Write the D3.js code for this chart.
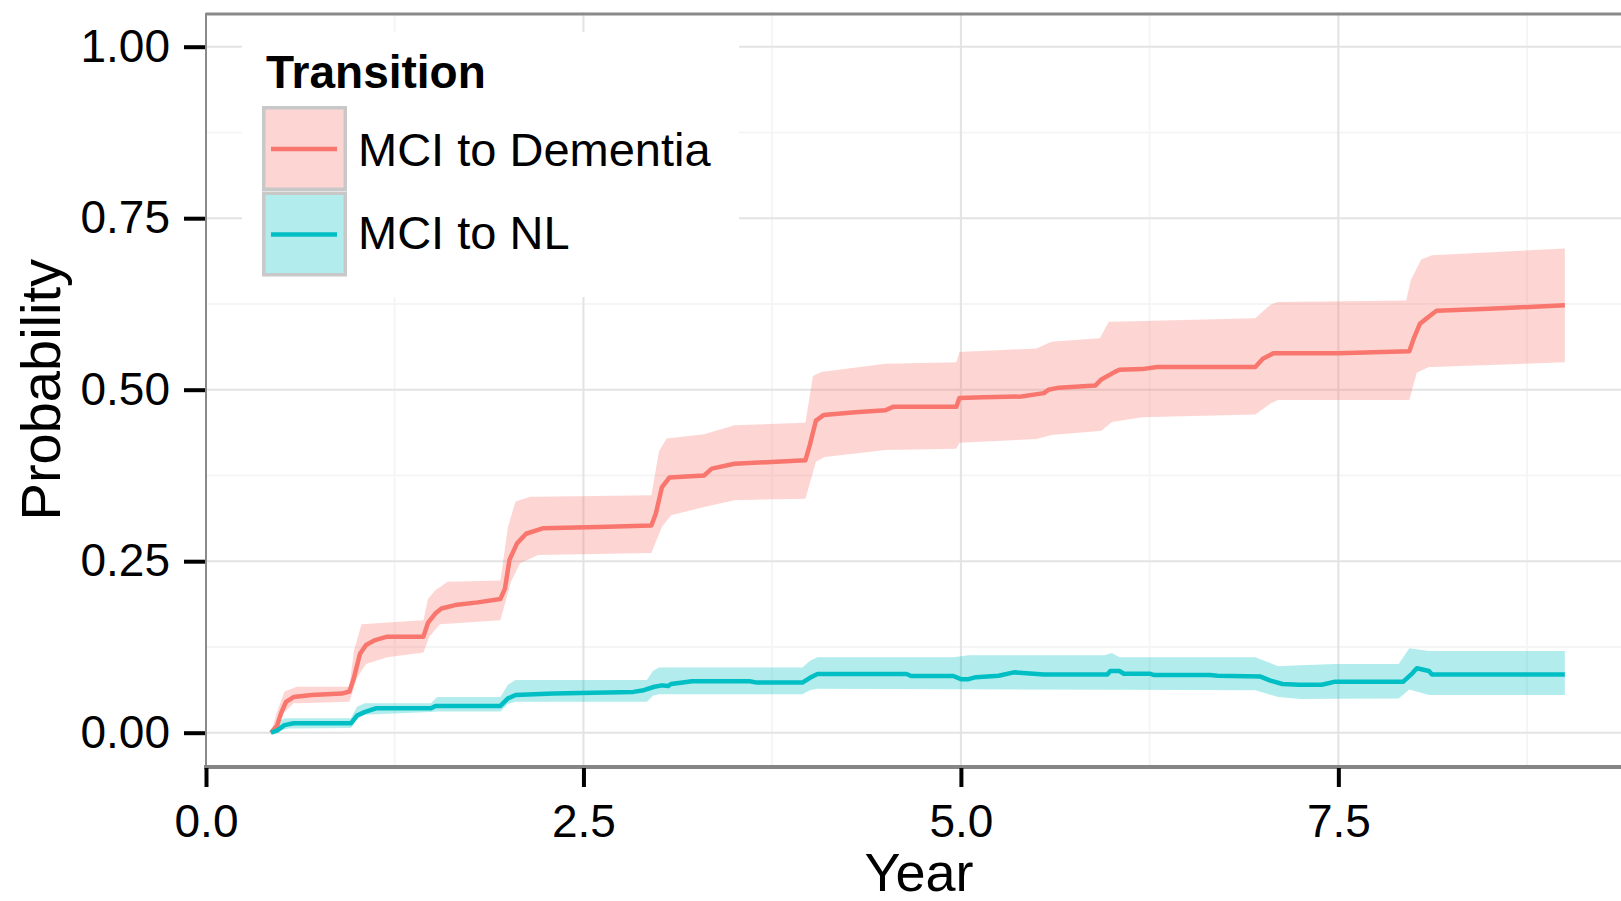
<!DOCTYPE html>
<html>
<head>
  <style>
    body { margin: 0; background: #fff; }
    text { font-family: "Liberation Sans", Arial, Helvetica, sans-serif; fill: #000; }
    line.major { stroke: #e3e3e3; stroke-width: 2; }
    line.minor { stroke: #f5f5f5; stroke-width: 2; }
    .axis text { font-size: 46px; }
    .axis line { stroke: #000; stroke-width: 4; }
  </style>
</head>
<body>
<svg id="chart"></svg>

<script src="https://cdn.jsdelivr.net/npm/d3@7"></script>
<script>
// series names and colours
var series = ['MCI to Dementia', 'MCI to NL'];
var colors = ['#F8766D', '#00BFC4'];

// [year, probability]
var demEst = [[0.43,0],[0.47,0.01],[0.50,0.03],[0.53,0.045],[0.58,0.052],[0.70,0.055],[0.90,0.057],[0.95,0.06],
  [0.98,0.08],[1.02,0.115],[1.06,0.128],[1.12,0.135],[1.20,0.14],[1.44,0.14],[1.47,0.16],[1.52,0.174],
  [1.56,0.181],[1.65,0.186],[1.80,0.19],[1.95,0.195],[1.98,0.21],[2.01,0.252],[2.06,0.276],[2.12,0.29],
  [2.23,0.298],[2.60,0.300],[2.95,0.302],[2.98,0.32],[3.02,0.358],[3.07,0.372],[3.30,0.375],[3.35,0.385],
  [3.50,0.392],[3.97,0.397],[4.00,0.42],[4.04,0.455],[4.09,0.463],[4.30,0.467],[4.50,0.47],[4.55,0.475],
  [4.97,0.475],[4.99,0.488],[5.15,0.489],[5.40,0.49],[5.55,0.495],[5.58,0.50],[5.65,0.503],[5.89,0.506],
  [5.93,0.515],[6.02,0.526],[6.05,0.529],[6.20,0.53],[6.30,0.533],[6.95,0.533],[7.00,0.545],[7.07,0.553],
  [7.50,0.553],[7.97,0.556],[8.00,0.575],[8.04,0.596],[8.09,0.605],[8.15,0.615],[8.50,0.618],[9.00,0.623]];
var demHi = [[0.43,0],[0.47,0.03],[0.52,0.06],[0.60,0.067],[0.95,0.067],[0.98,0.12],[1.03,0.158],[1.44,0.164],
  [1.47,0.195],[1.52,0.208],[1.60,0.22],[1.95,0.222],[2.00,0.30],[2.05,0.337],[2.15,0.344],[2.95,0.346],
  [3.00,0.41],[3.05,0.429],[3.30,0.435],[3.50,0.448],[3.97,0.452],[4.02,0.52],[4.08,0.526],[4.50,0.538],
  [4.97,0.54],[4.99,0.555],[5.50,0.56],[5.60,0.57],[5.92,0.575],[5.98,0.599],[6.20,0.60],[6.95,0.604],
  [7.05,0.624],[7.10,0.628],[7.95,0.63],[7.98,0.66],[8.05,0.69],[8.12,0.696],[9.00,0.706]];
var demLo = [[0.43,0],[0.50,0.025],[0.58,0.043],[0.95,0.045],[1.00,0.08],[1.06,0.10],[1.20,0.11],[1.44,0.117],
  [1.48,0.14],[1.55,0.158],[1.95,0.164],[2.02,0.22],[2.08,0.247],[2.20,0.259],[2.95,0.262],[3.02,0.30],
  [3.08,0.317],[3.30,0.329],[3.50,0.339],[3.97,0.341],[4.04,0.395],[4.10,0.402],[4.50,0.412],[4.97,0.414],
  [4.99,0.4225],[5.50,0.428],[5.60,0.434],[5.93,0.44],[6.00,0.453],[6.20,0.46],[6.95,0.464],[7.05,0.48],
  [7.10,0.485],[7.97,0.485],[8.02,0.525],[8.10,0.533],[9.00,0.54]];

var nlEst = [[0.43,0],[0.47,0.003],[0.52,0.011],[0.58,0.0137],[0.96,0.0137],[1.00,0.025],[1.05,0.03],
  [1.125,0.0355],[1.49,0.0355],[1.52,0.039],[1.95,0.039],[2.00,0.05],[2.05,0.055],[2.30,0.057],[2.83,0.0595],
  [2.90,0.062],[2.97,0.067],[3.02,0.069],[3.06,0.068],[3.08,0.071],[3.22,0.075],[3.60,0.075],[3.65,0.073],
  [3.95,0.073],[4.00,0.08],[4.05,0.0855],[4.64,0.0855],[4.67,0.0826],[4.95,0.0826],[5.00,0.078],[5.05,0.078],
  [5.10,0.081],[5.25,0.083],[5.35,0.088],[5.55,0.085],[5.97,0.085],[5.99,0.09],[6.05,0.09],[6.08,0.086],
  [6.25,0.086],[6.28,0.084],[6.65,0.084],[6.70,0.083],[6.98,0.082],[7.05,0.076],[7.13,0.071],[7.24,0.070],
  [7.39,0.070],[7.48,0.0744],[7.93,0.0744],[7.99,0.0865],[8.02,0.094],[8.10,0.09],[8.12,0.085],[9.00,0.085]];
var nlHi = [[0.43,0],[0.47,0.015],[0.52,0.021],[0.96,0.021],[1.00,0.038],[1.05,0.043],[1.49,0.043],[1.53,0.052],
  [1.95,0.052],[2.00,0.07],[2.05,0.077],[2.92,0.077],[2.96,0.09],[3.00,0.095],[3.95,0.095],[4.00,0.105],
  [4.05,0.11],[4.95,0.11],[5.05,0.113],[5.95,0.113],[6.00,0.116],[6.05,0.11],[6.95,0.11],[7.10,0.097],
  [7.48,0.10],[7.90,0.10],[7.97,0.123],[8.10,0.119],[9.00,0.119]];
var nlLo = [[0.43,0],[0.55,0.006],[0.96,0.007],[1.00,0.02],[1.05,0.026],[1.49,0.03],[1.53,0.031],[1.95,0.031],
  [2.00,0.042],[2.05,0.045],[2.92,0.045],[2.96,0.054],[3.00,0.056],[3.95,0.056],[4.00,0.062],[4.05,0.064],
  [6.95,0.062],[7.10,0.052],[7.25,0.049],[7.90,0.05],[7.97,0.063],[8.10,0.055],[9.00,0.055]];

var xTicks = [0, 2.5, 5, 7.5];
var xMinor = [1.25, 3.75, 6.25, 8.75];
var yTicks = [0, 0.25, 0.5, 0.75, 1];
var yMinor = [0.125, 0.375, 0.625, 0.875];

var width = 1621, height = 901;
var pLeft = 206, pRight = 1632, pTop = 12.4, pBottom = 767;

var svg = d3.select('#chart')
  .attr('width', width)
  .attr('height', height);

var x = d3.scaleLinear().domain([0, 9.445]).range([pLeft, pRight]);
var y = d3.scaleLinear().domain([-0.05, 1.05]).range([pBottom, pTop]);

// grid
svg.selectAll('line.xminor').data(xMinor).enter().append('line')
  .attr('class', 'minor').attr('x1', d => x(d)).attr('x2', d => x(d)).attr('y1', pTop).attr('y2', pBottom);
svg.selectAll('line.yminor').data(yMinor).enter().append('line')
  .attr('class', 'minor').attr('x1', pLeft).attr('x2', width).attr('y1', d => y(d)).attr('y2', d => y(d));
svg.selectAll('line.xmajor').data(xTicks).enter().append('line')
  .attr('class', 'major').attr('x1', d => x(d)).attr('x2', d => x(d)).attr('y1', pTop).attr('y2', pBottom);
svg.selectAll('line.ymajor').data(yTicks).enter().append('line')
  .attr('class', 'major').attr('x1', pLeft).attr('x2', width).attr('y1', d => y(d)).attr('y2', d => y(d));

// ribbons and lines
var band = d3.area().x(d => x(d[0])).y0(d => y(d[1])).y1(d => y(d[2]));
var line = d3.line().x(d => x(d[0])).y(d => y(d[1]));

// merge lower/upper readings onto one time grid for the area
function ribbon(lo, hi) {
  var times = Array.from(new Set(lo.map(d => d[0]).concat(hi.map(d => d[0])))).sort((a, b) => a - b);
  var fl = d3.scaleLinear().domain(lo.map(d => d[0])).range(lo.map(d => d[1]));
  var fh = d3.scaleLinear().domain(hi.map(d => d[0])).range(hi.map(d => d[1]));
  return times.map(t => [t, fl(t), fh(t)]);
}

var bands = [ribbon(demLo, demHi), ribbon(nlLo, nlHi)];
var ests = [demEst, nlEst];

svg.selectAll('path.band').data(bands).enter().append('path')
  .attr('d', band)
  .attr('fill', (d, i) => colors[i])
  .attr('fill-opacity', 0.3);

svg.selectAll('path.est').data(ests).enter().append('path')
  .attr('d', line)
  .attr('fill', 'none')
  .attr('stroke', (d, i) => colors[i])
  .attr('stroke-width', 4.5)
  .attr('stroke-linejoin', 'round');

// panel border
svg.append('line').attr('x1', pLeft).attr('x2', width).attr('y1', 14).attr('y2', 14)
  .attr('stroke', '#8a8a8a').attr('stroke-width', 3);
svg.append('line').attr('x1', pLeft).attr('x2', pLeft).attr('y1', 13).attr('y2', pBottom)
  .attr('stroke', '#8a8a8a').attr('stroke-width', 2);
svg.append('line').attr('x1', pLeft - 2).attr('x2', width).attr('y1', pBottom).attr('y2', pBottom)
  .attr('stroke', '#858585').attr('stroke-width', 4);

// axes
var gy = svg.append('g').attr('class', 'axis')
  .attr('transform', 'translate(' + (pLeft - 1) + ',0)')
  .call(d3.axisLeft(y).tickValues(yTicks).tickFormat(d3.format('.2f')).tickSize(21).tickPadding(14));
gy.select('.domain').remove();
gy.selectAll('text').attr('fill', '#000').style('font-family', '"Liberation Sans", Arial, sans-serif');

var gx = svg.append('g').attr('class', 'axis')
  .attr('transform', 'translate(0,' + (pBottom + 1) + ')')
  .call(d3.axisBottom(x).tickValues(xTicks).tickFormat(d3.format('.1f')).tickSize(19).tickPadding(17));
gx.select('.domain').remove();
gx.selectAll('text').attr('fill', '#000').style('font-family', '"Liberation Sans", Arial, sans-serif');

// axis titles
svg.append('text')
  .attr('x', (pLeft + pRight) / 2).attr('y', 891)
  .attr('text-anchor', 'middle').style('font-size', '54px')
  .text('Year');

svg.append('text')
  .attr('transform', 'translate(60,' + ((pTop + pBottom) / 2) + ') rotate(-90)')
  .attr('text-anchor', 'middle').style('font-size', '56px')
  .text('Probability');

// legend
var lg = svg.append('g');
lg.append('rect').attr('x', 242).attr('y', 32).attr('width', 497).attr('height', 265).attr('fill', '#fff');
lg.append('text').attr('x', 266).attr('y', 88)
  .style('font-size', '46px').style('font-weight', 'bold')
  .text('Transition');

var keys = lg.selectAll('g.key').data(series).enter().append('g')
  .attr('transform', (d, i) => 'translate(262,' + (106 + i * 85.5) + ')');
keys.append('rect')
  .attr('x', 1.75).attr('y', 1.75).attr('width', 81.5).attr('height', 81.5)
  .attr('fill', (d, i) => colors[i]).attr('fill-opacity', 0.3)
  .attr('stroke', '#c8c8c8').attr('stroke-width', 3.5);
keys.append('line')
  .attr('x1', 9).attr('x2', 75).attr('y1', 43).attr('y2', 43)
  .attr('stroke', (d, i) => colors[i]).attr('stroke-width', 4.5);
keys.append('text')
  .attr('x', 96).attr('y', (d, i) => i === 0 ? 60 : 57)
  .style('font-size', '47px')
  .text(d => d);
</script>
</body>
</html>
